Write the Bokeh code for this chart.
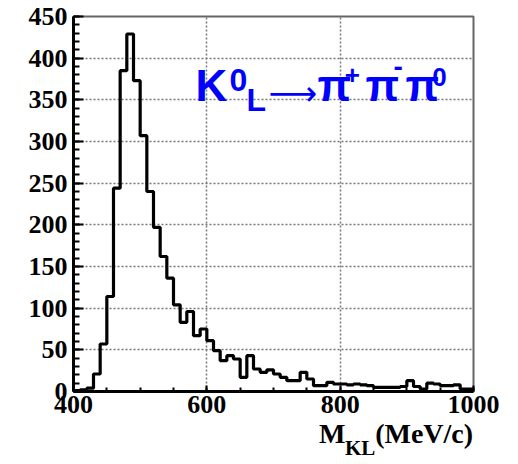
from bokeh.plotting import figure
from bokeh.models import Range1d, FixedTicker, Label, LinearAxis
from bokeh.embed import file_html
from bokeh.resources import INLINE

# ---- data ----
bin_lo = list(range(400, 1000, 10))
counts = [1, 2, 4, 21, 57, 114, 244, 385, 429, 373,
          307, 240, 197, 162, 136, 104, 83, 96, 67, 75,
          61, 49, 37, 43, 39, 17, 43, 27, 23, 26,
          21, 17, 13, 13, 23, 15, 7, 7, 11, 9,
          9, 8, 9, 8, 7, 5, 5, 5, 5, 6,
          13, 6, 3, 10, 9, 7, 7, 8, 3, 3]
x_major = [400, 600, 800, 1000]
x_minor = list(range(400, 1001, 50))
y_major = list(range(0, 451, 50))
y_minor = list(range(0, 451, 10))

p = figure(width=518, height=464, output_backend="svg", toolbar_location=None,
           x_range=Range1d(400, 1000), y_range=Range1d(0, 450),
           min_border_left=73, min_border_right=45, min_border_top=16, min_border_bottom=73)
p.background_fill_color = "white"
p.border_fill_color = "white"
p.outline_line_color = "#666666"
p.outline_line_width = 2

p.xaxis.ticker = FixedTicker(ticks=x_major, minor_ticks=x_minor)
p.yaxis.ticker = FixedTicker(ticks=y_major, minor_ticks=y_minor)

for ax in (p.xaxis[0], p.yaxis[0]):
    ax.axis_line_color = "black"
    ax.axis_line_width = 3
    ax.major_tick_line_color = "black"
    ax.minor_tick_line_color = "black"
    ax.major_tick_line_width = 2
    ax.minor_tick_line_width = 2
    ax.major_tick_out = 0
    ax.minor_tick_out = 0
    ax.major_label_text_font = "Liberation Serif"
    ax.major_label_text_font_style = "bold"
    ax.major_label_text_font_size = "26px"
    ax.major_label_text_color = "black"

p.yaxis.major_label_standoff = 6
p.xaxis.major_label_standoff = 4
p.yaxis.major_tick_in = 10
p.yaxis.minor_tick_in = 6
p.xaxis.major_tick_in = 6
p.xaxis.minor_tick_in = 4

for g in (p.xgrid[0], p.ygrid[0]):
    g.grid_line_color = "#777777"
    g.grid_line_dash = "2 2"
    g.grid_line_width = 1.5
p.xgrid.ticker = FixedTicker(ticks=x_major)
p.ygrid.ticker = FixedTicker(ticks=y_major)

xs = bin_lo + [1000]
ys = counts + [counts[-1]]
p.step(x=xs, y=ys, mode="after", line_color="black", line_width=3.2)

# ---- x-axis title "M_KL(MeV/c)" as two extra label-only axes ----
def text_axis(labels, size, standoff):
    ticks = list(labels.keys())
    ax = LinearAxis(ticker=FixedTicker(ticks=ticks, minor_ticks=[]),
                    major_label_overrides=labels)
    ax.axis_line_color = None
    ax.major_tick_line_color = None
    ax.minor_tick_line_color = None
    ax.major_tick_in = 0
    ax.major_tick_out = 0
    ax.minor_tick_in = 0
    ax.minor_tick_out = 0
    ax.major_label_text_font = "Liberation Serif"
    ax.major_label_text_font_style = "bold"
    ax.major_label_text_font_size = size
    ax.major_label_text_color = "black"
    ax.major_label_standoff = standoff
    p.add_layout(ax, "below")

text_axis({788: "M", 926: "(MeV/c)"}, "28px", 2)
text_axis({830: "KL"}, "21px", -16)

# ---- reaction annotation ----
blue = "#0000ff"
def lab(text, x, y, size, font="Liberation Sans", style="bold"):
    p.add_layout(Label(x=x, y=y, text=text, text_font=font, text_font_style=style,
                       text_font_size=size, text_color=blue, text_align="left",
                       text_baseline="alphabetic"))

lab("K", 583, 367.2, "44px")
lab("0", 634, 374.4, "32px")
lab("L", 659.5, 349.4, "32px")
lab("\u27f6", 692.5, 358.8, "34px", font="DejaVu Sans", style="normal")
lab("\u03c0", 766, 367.2, "44px")
lab("+", 807, 380, "26px")
lab("\u03c0", 838, 367.2, "44px")
lab("-", 880, 390, "28px")
lab("\u03c0", 898, 367.2, "44px")
lab("0", 938, 377.2, "26px")

open("out.html", "w").write(file_html(p, INLINE))
